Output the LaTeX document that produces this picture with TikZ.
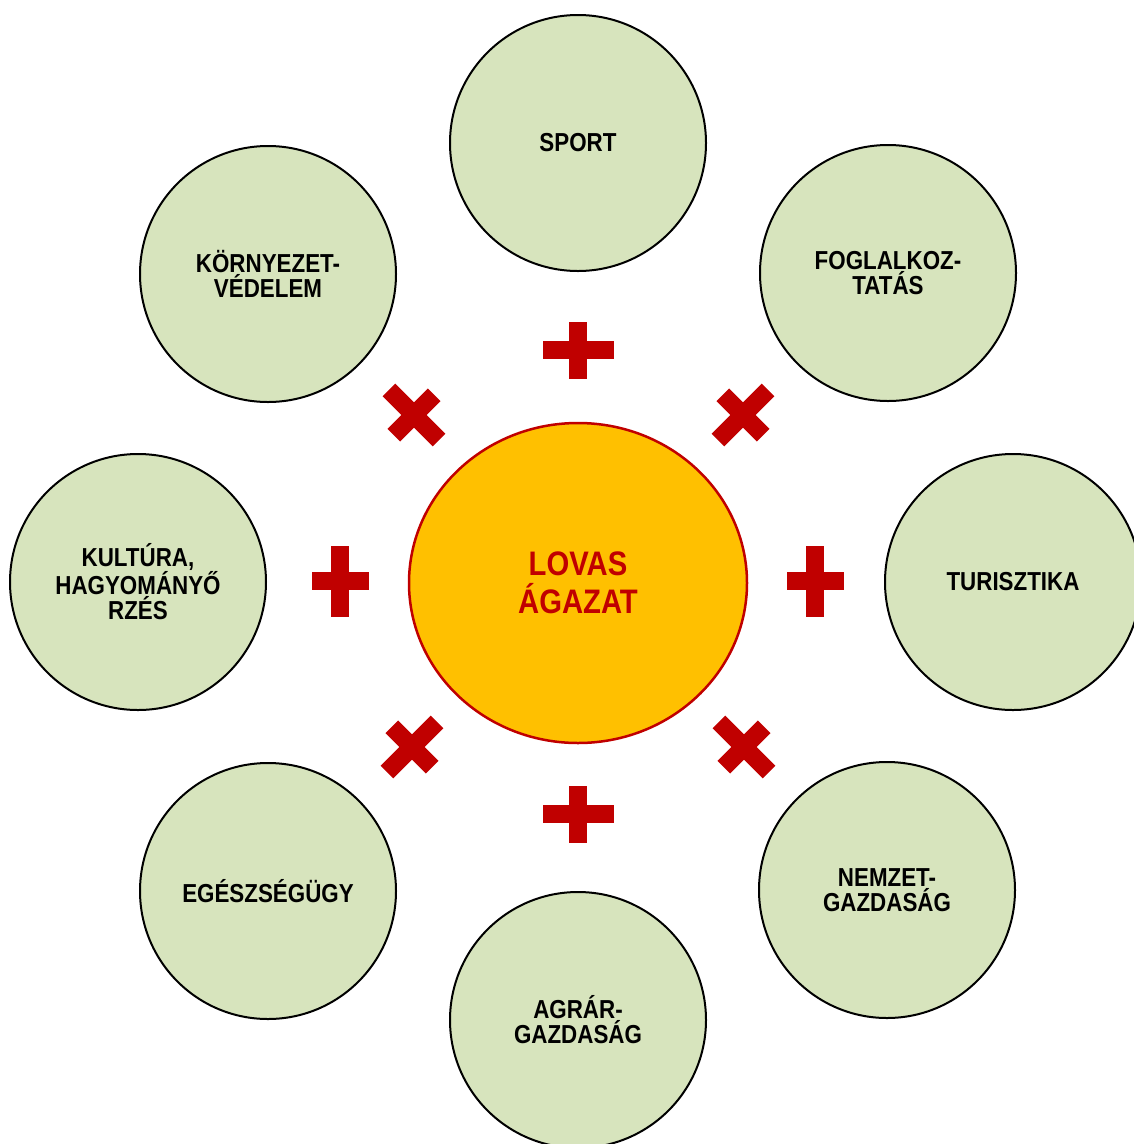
\documentclass[tikz,border=0pt]{standalone}
\usepackage{fontspec}
\setmainfont{Liberation Sans}[FakeStretch=0.86]
\usetikzlibrary{shapes.geometric}
\definecolor{topicgreen}{HTML}{D7E4BD}
\definecolor{hubgold}{HTML}{FFC000}
\definecolor{hubred}{HTML}{C00000}

\begin{document}
\begin{tikzpicture}[
  x=1pt, y=-1pt,
  topic/.style={circle, draw, line width=2pt, fill=topicgreen,
    minimum size=256pt, inner sep=0pt, align=center,
    font=\bfseries\fontsize{26}{25}\selectfont},
  hub/.style={ellipse, draw=hubred, line width=2.5pt, fill=hubgold,
    minimum width=338pt, minimum height=320pt, inner sep=0pt,
    align=center, text=hubred, font=\bfseries\fontsize{34}{38}\selectfont},
  plusmark/.pic={
    \fill[hubred] (-35.5,-9) rectangle (35.5,9);
    \fill[hubred] (-9,-28.5) rectangle (9,28.5);
  }
]
  \useasboundingbox (0,0) rectangle (1134,1144);
  \clip (0,0) rectangle (1134,1144);

  \node[topic] (sport) at (578,143) {SPORT};
  \node[topic] (foglalk) at (888,273) {FOGLALKOZ-\\TATÁS};
  \node[topic] (turiszt) at (1013,582) {TURISZTIKA};
  \node[topic] (nemzet) at (887,890) {NEMZET-\\GAZDASÁG};
  \node[topic] (agrar) at (578,1020) {AGRÁR-\\GAZDASÁG};
  \node[topic] (egeszseg) at (268,891) {EGÉSZSÉGÜGY};
  \node[topic] (kultura) at (138,582) {KULTÚRA,\\HAGYOMÁNYŐ\\RZÉS};
  \node[topic] (kornyezet) at (268,274) {KÖRNYEZET-\\VÉDELEM};
  \node[hub] (lovas) at (578,583) {LOVAS\\ÁGAZAT};

  % plus and cross marks round the hub
  \pic at (578,350) {plusmark};
  \pic[rotate=45] at (743,415) {plusmark};
  \pic[rotate=90] at (815,581) {plusmark};
  \pic[rotate=-45] at (744,747) {plusmark};
  \pic at (578,814) {plusmark};
  \pic[rotate=45] at (412,747) {plusmark};
  \pic[rotate=90] at (340,581) {plusmark};
  \pic[rotate=-45] at (414,415) {plusmark};
\end{tikzpicture}
\end{document}
